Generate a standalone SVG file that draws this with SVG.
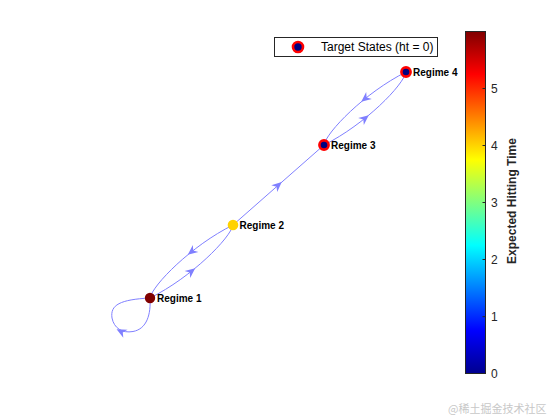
<svg xmlns="http://www.w3.org/2000/svg" width="560" height="420" viewBox="0 0 560 420">
<style>
.edge{fill:none;stroke:#8080ff;stroke-width:1;}
.ah{fill:#8080ff;}
.lbl{font-family:"Liberation Sans",Arial,sans-serif;font-size:10px;font-weight:bold;fill:#000;}
.tick{font-family:"Liberation Sans",Arial,sans-serif;font-size:12px;fill:#262626;}
.target{fill:#000080;stroke:#ff0000;stroke-width:2.6;}
</style>
<defs>
<path id="arrowhead" d="M-5,-4.5 L5,0 L-5,4.5 L-2,0 Z"/>
<linearGradient id="jet" x1="0" y1="1" x2="0" y2="0">
<stop offset="0" stop-color="#00008f"/>
<stop offset="0.125" stop-color="#0000ff"/>
<stop offset="0.375" stop-color="#00ffff"/>
<stop offset="0.625" stop-color="#ffff00"/>
<stop offset="0.875" stop-color="#ff0000"/>
<stop offset="1" stop-color="#800000"/>
</linearGradient>
</defs>
<rect width="560" height="420" fill="#fff"/>
<g id="edges">
<!-- 1 -> 2 (lower) -->
<path class="edge" d="M150,298 C191.7,277.3 230.4,237.9 233,225"/>
<use href="#arrowhead" class="ah" transform="translate(191.3,271.3) rotate(-38.5)"/>
<!-- 2 -> 1 (upper) -->
<path class="edge" d="M150,298 C152.6,285 191.3,245.7 233,225"/>
<use href="#arrowhead" class="ah" transform="translate(191.7,251.7) rotate(141.5)"/>
<!-- 2 -> 3 -->
<path class="edge" d="M233,225 L324,145"/>
<use href="#arrowhead" class="ah" transform="translate(278,185.4) rotate(-41.3)"/>
<!-- 3 -> 4 (lower) -->
<path class="edge" d="M324,145 C365.6,124.1 403.5,85 406,72"/>
<use href="#arrowhead" class="ah" transform="translate(364.9,118.3) rotate(-38.8)"/>
<!-- 4 -> 3 (upper) -->
<path class="edge" d="M324,145 C326.5,132 364.6,92.8 406,72"/>
<use href="#arrowhead" class="ah" transform="translate(365.1,98.7) rotate(141.2)"/>
<!-- self loop 1 -->
<path class="edge" d="M150,298 C151,314 147,329 133,331.5 C122,333.5 114,328 112,318 C110,305 120,299.5 150,298"/>
<use href="#arrowhead" class="ah" transform="translate(121,331.5) rotate(-152)"/>
</g>
<g id="node1">
<circle cx="150" cy="298" r="5.2" fill="#800000"/>
<text class="lbl" x="157" y="302">Regime 1</text>
</g>
<g id="node2">
<circle cx="233" cy="225" r="5.3" fill="#ffd200"/>
<text class="lbl" x="239.5" y="229">Regime 2</text>
</g>
<g id="node3">
<circle class="target" cx="324" cy="145" r="4.6"/>
<text class="lbl" x="331" y="149">Regime 3</text>
</g>
<g id="node4">
<circle class="target" cx="406" cy="72" r="4.6"/>
<text class="lbl" x="413" y="76">Regime 4</text>
</g>
<g id="legend">
<rect x="274.5" y="37.5" width="163" height="19" fill="#fff" stroke="#262626" stroke-width="1"/>
<circle class="target" cx="298" cy="47" r="5" stroke-width="3.2"/>
<text x="321" y="51" font-family="'Liberation Sans',Arial,sans-serif" font-size="12" fill="#000">Target States (ht = 0)</text>
</g>
<g id="colorbar">
<rect x="465.5" y="31.5" width="20" height="342" fill="url(#jet)" stroke="#262626" stroke-width="1"/>
<g stroke="#262626" stroke-width="1">
<line x1="482.5" y1="316.7" x2="485.5" y2="316.7"/>
<line x1="482.5" y1="259.5" x2="485.5" y2="259.5"/>
<line x1="482.5" y1="202.5" x2="485.5" y2="202.5"/>
<line x1="482.5" y1="145.5" x2="485.5" y2="145.5"/>
<line x1="482.5" y1="88.5" x2="485.5" y2="88.5"/>
</g>
<text class="tick" x="491" y="378">0</text>
<text class="tick" x="491" y="321">1</text>
<text class="tick" x="491" y="264">2</text>
<text class="tick" x="491" y="207">3</text>
<text class="tick" x="491" y="150">4</text>
<text class="tick" x="491" y="93">5</text>
<text transform="translate(516,201) rotate(-90)" text-anchor="middle" font-family="'Liberation Sans',Arial,sans-serif" font-size="12" font-weight="bold" fill="#262626">Expected Hitting Time</text>
</g>
<text x="448" y="413" font-family="'Noto Sans CJK SC',sans-serif" font-size="11" fill="#c8c8c8">@稀土掘金技术社区</text>
</svg>
